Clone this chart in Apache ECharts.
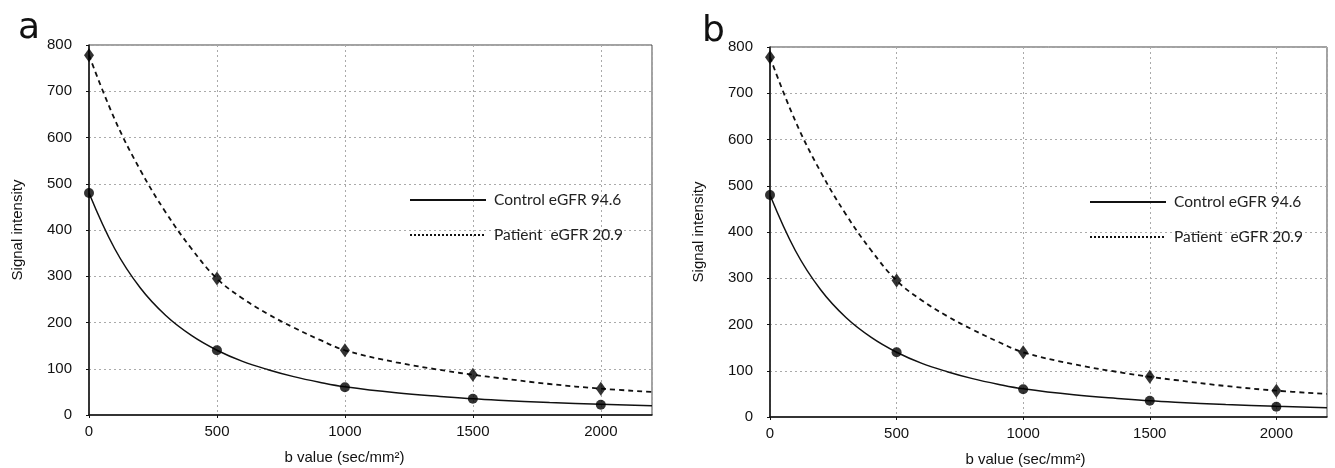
<!DOCTYPE html>
<html>
<head>
<meta charset="utf-8">
<script src="https://cdn.jsdelivr.net/npm/echarts@6/dist/echarts.min.js"></script>
<style>html,body{margin:0;padding:0;background:#fff}#c{width:1335px;height:468px}</style>
</head>
<body>
<div id="c"></div>
<script>
// measured points
var bValues = [0, 500, 1000, 1500, 2000];
var controlPoints = [480, 140, 60, 35, 22];
var patientPoints = [778, 295, 140, 87, 57];
// fitted curves
var curveB = [0, 100, 200, 300, 400, 500, 600, 700, 800, 900, 1000, 1200, 1400, 1500, 1600, 1800, 2000, 2200];
var controlCurve = [480, 360, 275, 215, 172, 140, 116, 98, 83, 71, 61, 48, 39, 35, 32, 27, 23, 20];
var patientCurve = [778, 640, 530, 438, 360, 295, 252, 218, 189, 163, 140, 114, 95, 87, 80, 67, 57, 50];
var xTicks = [0, 500, 1000, 1500, 2000];
var yTicks = [0, 100, 200, 300, 400, 500, 600, 700, 800];
var controlName = 'Control eGFR 94.6';
var patientName = 'Patient  eGFR 20.9';
var xName = 'b value (sec/mm\u00B2)';
var yName = 'Signal intensity';
var panelLabels = ['a', 'b'];

function pairs(xs, ys){ return xs.map(function(x,i){ return [x, ys[i]]; }); }

var chart = echarts.init(document.getElementById('c'), null, {renderer:'canvas'});
var grids = [
  {left: 89, right: 683, top: 45, bottom: 53},
  {left: 770, right: 8, top: 47, bottom: 51}
];
var tickFont = {fontFamily: 'Liberation Sans', fontSize: 15, color: '#111'};
var xAxes = [], yAxes = [], series = [], legends = [], titles = [];
var legendPos = [{left: 409, top: 192}, {left: 1089, top: 194}];
var namePad = [52, 46];
grids.forEach(function(g, i){
  g.show = true; g.borderColor = '#444'; g.borderWidth = 1;
  g.containLabel = false; g.outerBoundsMode = 'none';
  xAxes.push({
    type: 'value', gridIndex: i, min: xTicks[0], max: 2200, interval: 500,
    name: xName, nameLocation: 'middle', nameGap: 35,
    nameTextStyle: {fontFamily: 'Liberation Sans', fontSize: 15, color: '#111', padding: [0, namePad[i], 0, 0]},
    axisLine: {show: true, onZero: false, lineStyle: {color: '#111', width: 1.5}},
    axisTick: {show: true, length: 3, lineStyle: {color: '#111'}},
    axisLabel: Object.assign({margin: 9, showMaxLabel: false, formatter: function(v){ return String(v); }}, tickFont),
    splitLine: {show: true, lineStyle: {color: '#aaa', type: [2, 3], width: 1}}
  });
  yAxes.push({
    type: 'value', gridIndex: i, min: yTicks[0], max: yTicks[yTicks.length-1], interval: 100,
    name: yName, nameLocation: 'middle', nameGap: 64,
    nameTextStyle: {fontFamily: 'Liberation Sans', fontSize: 15, color: '#111'},
    axisLine: {show: true, onZero: false, lineStyle: {color: '#111', width: 1.5}},
    axisTick: {show: true, length: 3, lineStyle: {color: '#111'}},
    axisLabel: Object.assign({margin: 17, formatter: function(v){ return String(v); }}, tickFont),
    splitLine: {show: true, lineStyle: {color: '#aaa', type: [2, 3], width: 1}}
  });
  series.push({
    name: controlName, type: 'line', xAxisIndex: i, yAxisIndex: i, smooth: 0.4,
    symbol: 'none', data: pairs(curveB, controlCurve),
    lineStyle: {color: '#111', width: 1.5}, itemStyle: {color: '#111'}, z: 3
  });
  series.push({
    name: patientName, type: 'line', xAxisIndex: i, yAxisIndex: i, smooth: 0.4,
    symbol: 'none', data: pairs(curveB, patientCurve),
    lineStyle: {color: '#111', width: 1.8, type: [5, 4]}, itemStyle: {color: '#111'}, z: 3
  });
  series.push({
    name: 'cpts' + i, type: 'scatter', xAxisIndex: i, yAxisIndex: i, symbol: 'circle', symbolSize: 10,
    data: pairs(bValues, controlPoints), itemStyle: {color: '#000'}, clip: false, z: 5
  });
  series.push({
    name: 'ppts' + i, type: 'scatter', xAxisIndex: i, yAxisIndex: i, symbol: 'diamond', symbolSize: [10, 14],
    data: pairs(bValues, patientPoints), itemStyle: {color: '#000'}, clip: false, z: 5
  });
  legends.push({
    left: legendPos[i].left, top: legendPos[i].top, orient: 'vertical', padding: 0,
    itemWidth: 76, itemHeight: 14, itemGap: 19, selectedMode: false,
    textStyle: {fontFamily: 'Lato', fontSize: 15.5, color: '#222', padding: [0, 0, 0, 3]},
    data: [
      {name: controlName, itemStyle: {opacity: 0}, lineStyle: {width: 2, type: 'solid', opacity: 1}},
      {name: patientName, itemStyle: {opacity: 0}, lineStyle: {width: 2, type: [2, 2], opacity: 1}}
    ]
  });
});
titles.push({text: panelLabels[0], left: 13, top: 6, textStyle: {fontFamily: 'DejaVu Sans', fontSize: 36, fontWeight: 'normal', color: '#111'}});
titles.push({text: panelLabels[1], left: 697, top: 9, textStyle: {fontFamily: 'DejaVu Sans', fontSize: 36, fontWeight: 'normal', color: '#111'}});

chart.setOption({
  animation: false,
  backgroundColor: '#fff',
  title: titles,
  grid: grids,
  xAxis: xAxes,
  yAxis: yAxes,
  legend: legends,
  series: series
});
</script>
</body>
</html>
